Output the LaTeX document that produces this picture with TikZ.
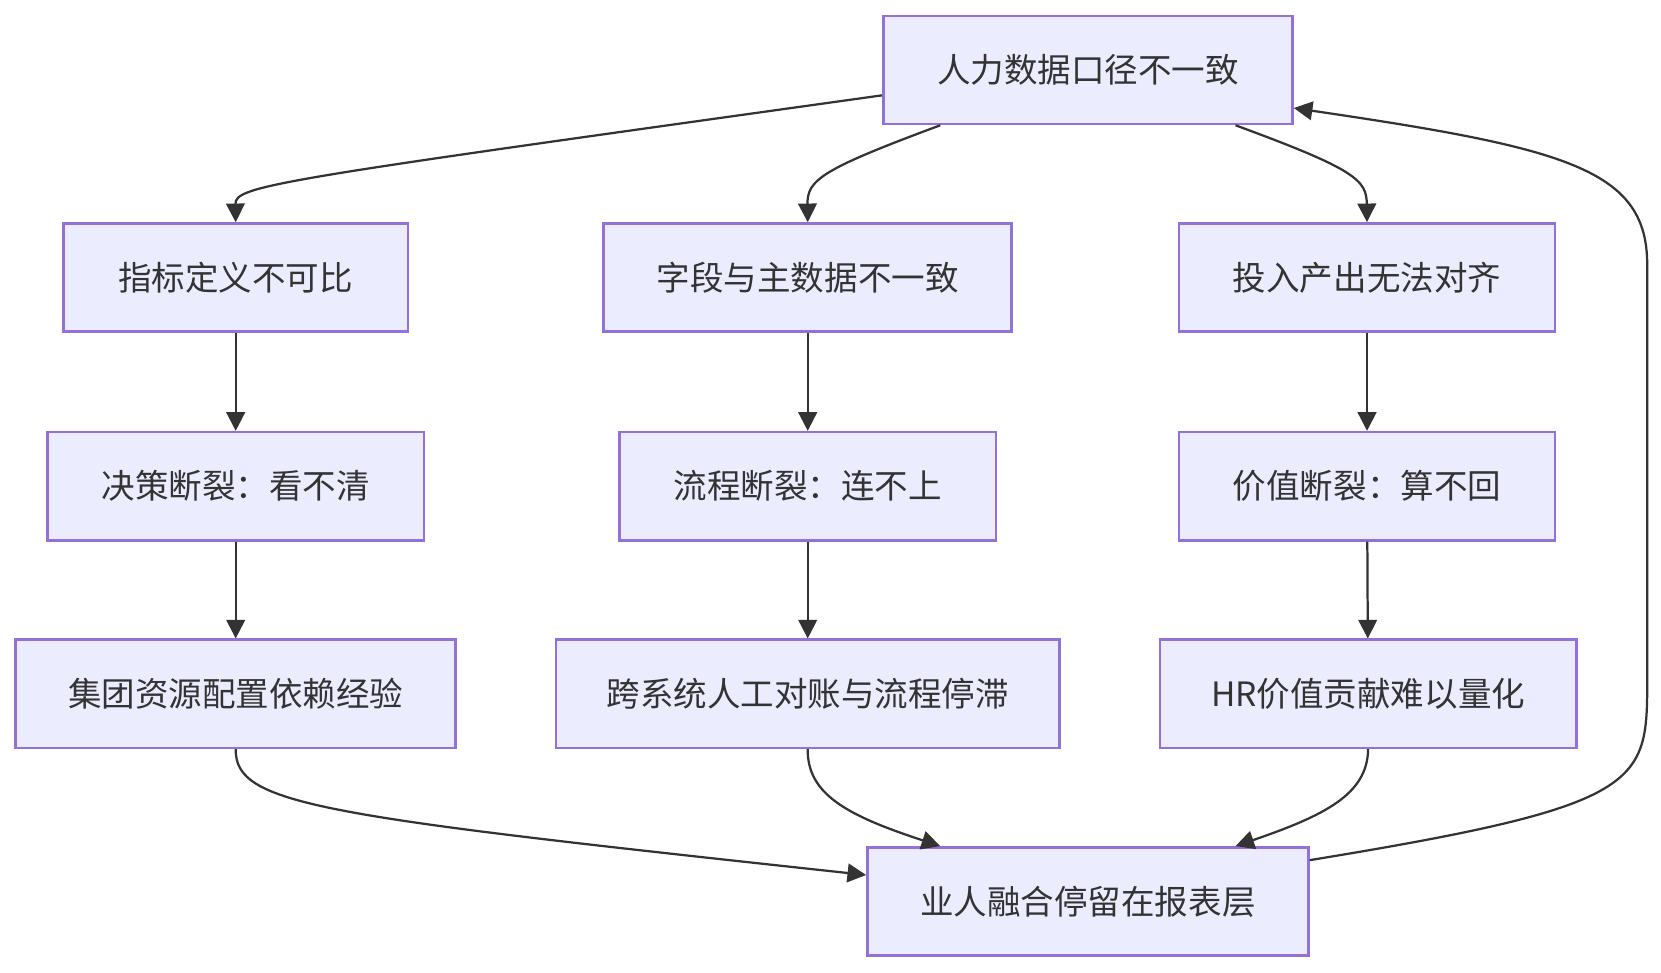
\documentclass[tikz,border=0pt]{standalone}
\usepackage{fontspec}
\setmainfont{Noto Sans CJK SC}
\usetikzlibrary{arrows.meta,calc}
\definecolor{boxfill}{HTML}{ECECFF}
\definecolor{boxline}{HTML}{9370DB}
\definecolor{ink}{HTML}{333333}
\tikzset{
  box/.style={draw=boxline, fill=boxfill, line width=0.7pt, text=ink,
              minimum height=1.02cm, inner sep=0pt, font=\fontsize{9}{11}\selectfont},
  edge/.style={draw=ink, line width=0.6pt, -{Triangle[length=5pt,width=5pt]}}
}
\begin{document}
\begin{tikzpicture}[x=0.01cm,y=-0.01cm]
    \useasboundingbox (0,0) rectangle (1568,918);
    \node[box, minimum width=3.86cm] (top) at (1027,66) {人力数据口径不一致};
    \node[box, minimum width=3.25cm] (a1) at (222.5,262) {指标定义不可比};
    \node[box, minimum width=3.85cm] (b1) at (762.5,262) {字段与主数据不一致};
    \node[box, minimum width=3.55cm] (c1) at (1290.5,262) {投入产出无法对齐};
    \node[box, minimum width=3.55cm] (a2) at (222.5,459) {决策断裂：看不清};
    \node[box, minimum width=3.55cm] (b2) at (762.5,459) {流程断裂：连不上};
    \node[box, minimum width=3.55cm] (c2) at (1290.5,459) {价值断裂：算不回};
    \node[box, minimum width=4.15cm] (a3) at (222.5,655) {集团资源配置依赖经验};
    \node[box, minimum width=4.75cm] (b3) at (762.5,655) {跨系统人工对账与流程停滞};
    \node[box, minimum width=3.93cm] (c3) at (1291.5,655) {HR价值贡献难以量化};
    \node[box, minimum width=4.16cm] (bot) at (1027,851) {业人融合停留在报表层};

    %edges
    \draw[edge] ($(top.west)+(0,24)$) .. controls (260,170) and (222,175) .. (a1.north);
    \draw[edge] ($(top.south west)+(55,0)$) .. controls (775,160) and (762,170) .. (b1.north);
    \draw[edge] ($(top.south east)+(-55,0)$) .. controls (1280,160) and (1290,170) .. (c1.north);
    \draw[edge] (a1) -- (a2);
    \draw[edge] (b1) -- (b2);
    \draw[edge] (c1) -- (c2);
    \draw[edge] (a2) -- (a3);
    \draw[edge] (b2) -- (b3);
    \draw[edge] (c2) -- (c3);
    \draw[edge] (a3.south) .. controls (222,760) and (300,770) .. ($(bot.west)+(0,-25)$);
    \draw[edge] (b3.south) .. controls (762,750) and (800,770) .. ($(bot.north west)+(70,0)$);
    \draw[edge] (c3.south) .. controls (1291,750) and (1250,770) .. ($(bot.north east)+(-70,0)$);
    \draw[edge] ($(bot.east)+(0,-39)$) .. controls (1555,760) and (1555,740) .. (1555,640)
        -- (1555,250) .. controls (1555,160) and (1480,140) .. ($(top.east)+(0,36)$);
\end{tikzpicture}
\end{document}
